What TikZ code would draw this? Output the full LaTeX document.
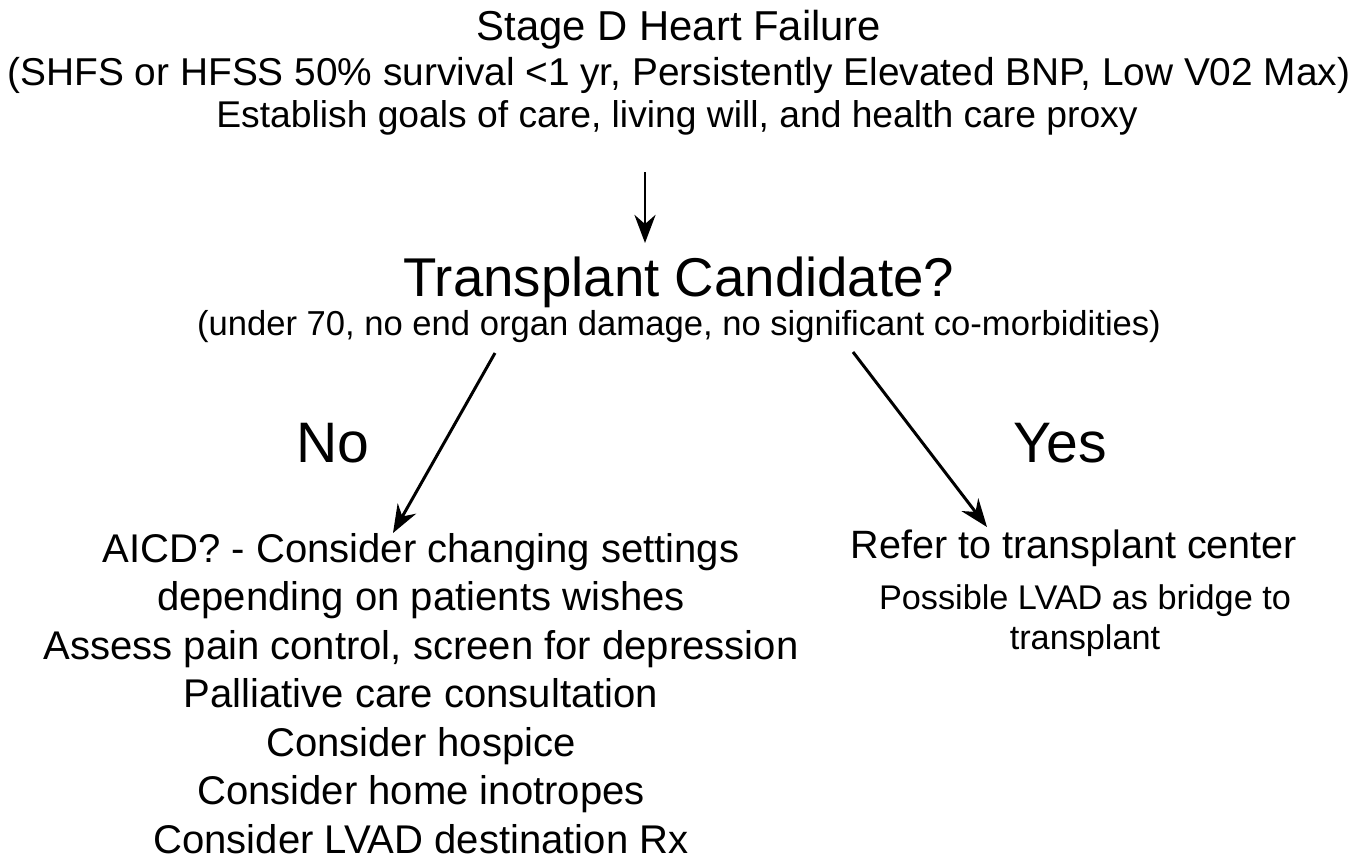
\documentclass[tikz,border=0pt]{standalone}
\usepackage{fontspec}
\setmainfont{Liberation Sans}
\usetikzlibrary{arrows.meta,positioning}

\tikzset{
txt/.style={inner sep=0pt,align=center},
flow/.style={-{Stealth[length=16pt,width=12pt]},line width=1.7pt}
}

\begin{document}
\begin{tikzpicture}[x=0.02cm,y=-0.02cm]
\useasboundingbox (0,0) rectangle (1357,860);
% top block
\node[txt,font=\fontsize{23.8}{28}\selectfont] (stage) at (679,30) {Stage D Heart Failure};
\node[txt,font=\fontsize{22.1}{27}\selectfont] (criteria) at (679,75) {(SHFS or HFSS 50\% survival <1 yr, Persistently Elevated BNP, Low V02 Max)};
\node[txt,font=\fontsize{21.2}{25}\selectfont] (goals) at (677,118) {Establish goals of care, living will, and health care proxy};
% question
\node[txt,font=\fontsize{31.1}{36}\selectfont] (cand) at (679,282) {Transplant Candidate?};
\node[txt,font=\fontsize{19.7}{24}\selectfont] (cond) at (679,327) {(under 70, no end organ damage, no significant co-morbidities)};
\node[txt,font=\fontsize{32.5}{38}\selectfont] (no) at (333,443) {No};
\node[txt,font=\fontsize{32.5}{38}\selectfont] (yes) at (1060,443) {Yes};
% outcomes
\node[txt,font=\fontsize{22.8}{27.6}\selectfont,anchor=north] (palli) at (421,533) {AICD? - Consider changing settings\\ depending on patients wishes\\ Assess pain control, screen for depression\\ Palliative care consultation\\ Consider hospice\\ Consider home inotropes\\ Consider LVAD destination Rx};
\node[txt,font=\fontsize{22.5}{26}\selectfont] (refer) at (1074,548) {Refer to transplant center};
\node[txt,font=\fontsize{19.5}{22.8}\selectfont,anchor=north] (lvad) at (1085,584) {Possible LVAD as bridge to\\ transplant};
% arrows
\coordinate (a0) at (645,172);
\coordinate (a1) at (645,243);
\coordinate (b0) at (495,353);
\coordinate (b1) at (393,533);
\coordinate (c0) at (853,352);
\coordinate (c1) at (987,527);
\draw[flow] (a0) -- (a1);
\draw[flow] (b0) -- (b1);
\draw[flow] (c0) -- (c1);
\end{tikzpicture}
\end{document}
